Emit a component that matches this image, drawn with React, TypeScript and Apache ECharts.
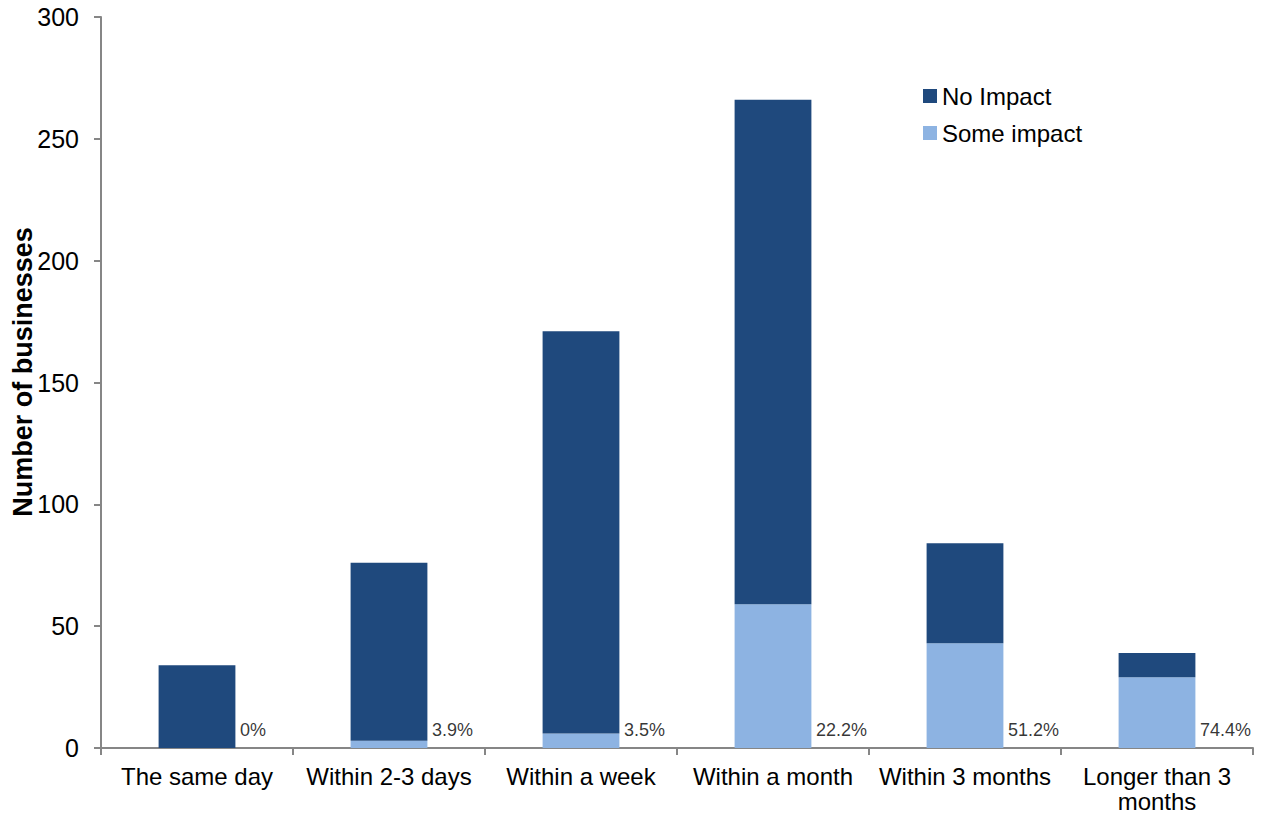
import React, { useEffect, useRef } from "react";
import * as echarts from "echarts";

const categories = [
  "The same day",
  "Within 2-3 days",
  "Within a week",
  "Within a month",
  "Within 3 months",
  "Longer than 3\nmonths",
];
const someImpact = [0, 3, 6, 59, 43, 29];
const noImpact = [34, 73, 165, 207, 41, 10];
const pctLabels = ["0%", "3.9%", "3.5%", "22.2%", "51.2%", "74.4%"];
const yTicks = { min: 0, max: 300, interval: 50 };
const yAxisTitle = "Number of businesses";

const FONT = "'Liberation Sans', Arial, sans-serif";

export default function App() {
  const ref = useRef<HTMLDivElement>(null);
  useEffect(() => {
    if (!ref.current) return;
    const chart = echarts.init(ref.current, undefined, { renderer: "svg" });
    chart.setOption({
      animation: false,
      backgroundColor: "#ffffff",
      textStyle: { fontFamily: FONT },
      grid: {
        left: 101,
        right: 12,
        top: 17,
        bottom: 73,
        containLabel: false,
        outerBoundsMode: "none",
      },
      graphic: [
        {
          type: "text",
          x: 23,
          y: 372,
          rotation: Math.PI / 2,
          style: {
            text: yAxisTitle,
            fontSize: 27,
            fontWeight: "bold",
            fontFamily: FONT,
            fill: "#000",
            align: "center",
            verticalAlign: "middle",
          },
        },
      ],
      legend: {
        orient: "vertical",
        left: 918,
        top: 79,
        itemWidth: 14,
        itemHeight: 14,
        itemGap: 13,
        icon: "rect",
        data: ["No Impact", "Some impact"],
        textStyle: { fontSize: 24, color: "#000", fontFamily: FONT },
      },
      xAxis: {
        type: "category",
        data: categories,
        axisLine: { lineStyle: { color: "#868686", width: 2 } },
        axisTick: { show: true, length: 7, lineStyle: { color: "#868686", width: 2 } },
        axisLabel: {
          interval: 0,
          fontSize: 24,
          color: "#000",
          margin: 16,
          lineHeight: 25,
          fontFamily: FONT,
        },
      },
      yAxis: {
        type: "value",
        min: yTicks.min,
        max: yTicks.max,
        interval: yTicks.interval,
        axisLine: { show: true, lineStyle: { color: "#868686", width: 2 } },
        axisTick: { show: true, length: 7, lineStyle: { color: "#868686", width: 2 } },
        axisLabel: { fontSize: 25, color: "#000", margin: 22, fontFamily: FONT },
        splitLine: { show: false },
      },
      series: [
        {
          name: "Some impact",
          type: "bar",
          stack: "total",
          data: someImpact,
          barCategoryGap: "60%",
          itemStyle: { color: "#8DB3E2" },
        },
        {
          name: "No Impact",
          type: "bar",
          stack: "total",
          data: noImpact,
          barCategoryGap: "60%",
          itemStyle: { color: "#1F497D" },
        },
        {
          name: "pct",
          type: "scatter",
          data: categories.map(() => 0),
          symbolSize: 0,
          silent: true,
          label: {
            show: true,
            position: "right",
            distance: 43,
            offset: [0, -18],
            fontSize: 18,
            color: "#000",
            fontFamily: FONT,
            formatter: (p: any) => pctLabels[p.dataIndex],
          },
        },
      ],
    });
    return () => chart.dispose();
  }, []);
  return (
    <div
      ref={ref}
      style={{ position: "fixed", left: 0, top: 0, width: 1265, height: 821 }}
    />
  );
}
